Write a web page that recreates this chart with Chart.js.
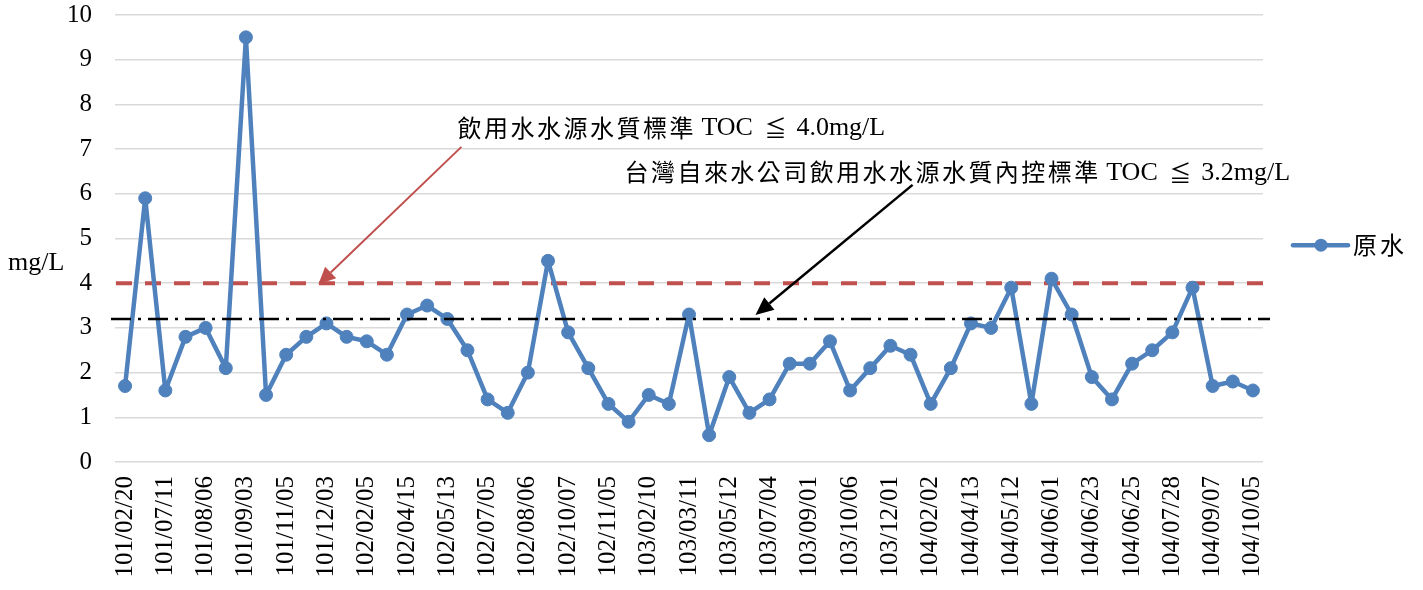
<!DOCTYPE html>
<html>
<head>
<meta charset="utf-8">
<script src="https://cdn.jsdelivr.net/npm/chart.js@4/dist/chart.umd.min.js"></script>
<style>
  html, body { margin: 0; padding: 0; background: #fff; }
</style>
</head>
<body>
<canvas id="toc-chart" width="1423" height="590"></canvas>
<script>
// dates printed on the axis (only every second sample gets a label)
const shownDates = [
    '101/02/20', '101/07/11', '101/08/06', '101/09/03', '101/11/05', '101/12/03',
    '102/02/05', '102/04/15', '102/05/13', '102/07/05', '102/08/06', '102/10/07',
    '102/11/05', '103/02/10', '103/03/11', '103/05/12', '103/07/04', '103/09/01',
    '103/10/06', '103/12/01', '104/02/02', '104/04/13', '104/05/12', '104/06/01',
    '104/06/23', '104/06/25', '104/07/28', '104/09/07', '104/10/05'
];

// raw water TOC (mg/L)
const tocValues = [
    1.7, 5.9, 1.6, 2.8, 3.0, 2.1, 9.5, 1.5, 2.4, 2.8,
    3.1, 2.8, 2.7, 2.4, 3.3, 3.5, 3.2, 2.5, 1.4, 1.1,
    2.0, 4.5, 2.9, 2.1, 1.3, 0.9, 1.5, 1.3, 3.3, 0.6,
    1.9, 1.1, 1.4, 2.2, 2.2, 2.7, 1.6, 2.1, 2.6, 2.4,
    1.3, 2.1, 3.1, 3.0, 3.9, 1.3, 4.1, 3.3, 1.9, 1.4,
    2.2, 2.5, 2.9, 3.9, 1.7, 1.8, 1.6
];

const yMin = 0;
const yMax = 10;
const yStep = 1;

const standardLimit = 4.0;   // 飲用水水源水質標準
const internalLimit = 3.2;   // 台水內控標準

const seriesName = '原水';
const unitLabel = 'mg/L';
const standardNote = ['飲用水水源水質標準', 'TOC', '≦', '4.0mg/L'];
const internalNote = ['台灣自來水公司飲用水水源水質內控標準', 'TOC', '≦', '3.2mg/L'];

const labels = tocValues.map((v, i) => (i % 2 === 0 ? shownDates[i / 2] : ''));

const BLUE = '#4f81bd';
const RED = '#c0504d';
const SERIF = '"Liberation Serif", "Times New Roman", serif';
const CJK = '"Noto Sans CJK TC", "Noto Sans CJK SC", sans-serif';

function drawCjk(ctx, text, x, y, size, advance) {
    ctx.font = size + 'px ' + CJK;
    ctx.textAlign = 'left';
    ctx.textBaseline = 'middle';
    for (let i = 0; i < text.length; i++) {
        ctx.fillText(text[i], x + i * advance, y);
    }
    return x + (text.length - 1) * advance + size;
}

function drawNote(ctx, note, x, y, advance) {
    ctx.fillStyle = '#000';
    const end = drawCjk(ctx, note[0], x, y, 24, advance);
    const tx = end + 8;
    ctx.font = '26px ' + SERIF;
    ctx.textAlign = 'left';
    ctx.textBaseline = 'middle';
    ctx.fillText(note[1], tx, y + 1);
    ctx.font = '22px ' + CJK;
    ctx.textAlign = 'center';
    ctx.fillText(note[2], tx + 74, y);
    ctx.font = '26px ' + SERIF;
    ctx.textAlign = 'left';
    ctx.fillText(note[3], tx + 95, y + 1);
}

function drawArrow(ctx, x1, y1, x2, y2, color, width, headLen, headHalf) {
    const ang = Math.atan2(y2 - y1, x2 - x1);
    const bx = x2 - headLen * Math.cos(ang);
    const by = y2 - headLen * Math.sin(ang);
    ctx.strokeStyle = color;
    ctx.fillStyle = color;
    ctx.lineWidth = width;
    ctx.setLineDash([]);
    ctx.beginPath();
    ctx.moveTo(x1, y1);
    ctx.lineTo(bx, by);
    ctx.stroke();
    ctx.beginPath();
    ctx.moveTo(x2, y2);
    ctx.lineTo(bx + headHalf * Math.sin(ang), by - headHalf * Math.cos(ang));
    ctx.lineTo(bx - headHalf * Math.sin(ang), by + headHalf * Math.cos(ang));
    ctx.closePath();
    ctx.fill();
}

const overlay = {
    id: 'overlay',
    beforeDatasetsDraw(chart) {
        const ctx = chart.ctx;
        const area = chart.chartArea;
        const y = chart.scales.y;
        ctx.save();
        // red dashed standard line
        ctx.strokeStyle = RED;
        ctx.lineWidth = 4;
        ctx.setLineDash([16, 13]);
        ctx.beginPath();
        ctx.moveTo(area.left + 1, y.getPixelForValue(standardLimit));
        ctx.lineTo(area.right + 7, y.getPixelForValue(standardLimit));
        ctx.stroke();
        ctx.restore();
    },
    afterDatasetsDraw(chart) {
        const ctx = chart.ctx;
        const area = chart.chartArea;
        const x = chart.scales.x;
        const y = chart.scales.y;
        ctx.save();

        // black dash-dot internal line
        ctx.strokeStyle = '#000';
        ctx.lineWidth = 2.5;
        ctx.setLineDash([20, 7, 3, 7]);
        ctx.beginPath();
        ctx.moveTo(area.left - 4, y.getPixelForValue(internalLimit));
        ctx.lineTo(area.right + 7, y.getPixelForValue(internalLimit));
        ctx.stroke();

        // arrows pointing to the two limits
        drawArrow(ctx, x.getPixelForValue(16.7), y.getPixelForValue(7.05),
            x.getPixelForValue(9.6), y.getPixelForValue(standardLimit) + 1, RED, 2, 17, 8);
        drawArrow(ctx, x.getPixelForValue(39.1), y.getPixelForValue(6.2),
            x.getPixelForValue(31.3), y.getPixelForValue(internalLimit) - 4, '#000', 2.5, 18, 8);

        // notes
        drawNote(ctx, standardNote, x.getPixelForValue(16.5), y.getPixelForValue(7.48), 26.5);
        drawNote(ctx, internalNote, x.getPixelForValue(24.8), y.getPixelForValue(6.48), 26.45);

        // unit label
        ctx.fillStyle = '#000';
        ctx.font = '26px ' + SERIF;
        ctx.textAlign = 'left';
        ctx.textBaseline = 'middle';
        ctx.fillText(unitLabel, 8, y.getPixelForValue(4.45));

        // legend
        const ly = y.getPixelForValue(4.85);
        const lx = area.right + 30;
        ctx.strokeStyle = BLUE;
        ctx.lineWidth = 4.5;
        ctx.setLineDash([]);
        ctx.lineCap = 'round';
        ctx.beginPath();
        ctx.moveTo(lx, ly);
        ctx.lineTo(lx + 55, ly);
        ctx.stroke();
        ctx.fillStyle = BLUE;
        ctx.beginPath();
        ctx.arc(lx + 28, ly, 6.5, 0, Math.PI * 2);
        ctx.fill();
        ctx.fillStyle = '#000';
        drawCjk(ctx, seriesName, lx + 60, ly, 24, 27);

        ctx.restore();
    }
};

const ctx = document.getElementById('toc-chart').getContext('2d');
new Chart(ctx, {
    type: 'line',
    data: {
        labels: labels,
        datasets: [{
            label: seriesName,
            data: tocValues,
            borderColor: BLUE,
            backgroundColor: BLUE,
            borderWidth: 4.5,
            borderJoinStyle: 'round',
            borderCapStyle: 'round',
            pointRadius: 6.5,
            pointBackgroundColor: BLUE,
            pointBorderColor: BLUE,
            pointBorderWidth: 1,
            tension: 0,
            fill: false
        }]
    },
    options: {
        responsive: false,
        animation: false,
        layout: {
            autoPadding: false,
            padding: { left: 0, right: 160, top: 15, bottom: 0 }
        },
        plugins: {
            legend: { display: false },
            tooltip: { enabled: false }
        },
        scales: {
            x: {
                type: 'category',
                offset: true,
                grid: { display: false, drawTicks: false },
                border: { display: false },
                ticks: {
                    autoSkip: false,
                    minRotation: 90,
                    maxRotation: 90,
                    padding: 14,
                    color: '#000',
                    font: { family: SERIF, size: 25 }
                },
                afterFit: function (scale) {
                    scale.height = 128;
                }
            },
            y: {
                min: yMin,
                max: yMax,
                grid: {
                    color: '#d9d9d9',
                    lineWidth: 1.5,
                    drawTicks: true,
                    tickLength: 23,
                    tickColor: 'rgba(0,0,0,0)'
                },
                border: { display: false },
                ticks: {
                    stepSize: yStep,
                    padding: 0,
                    color: '#000',
                    font: { family: SERIF, size: 25 }
                },
                afterFit: function (scale) {
                    scale.width = 115;
                }
            }
        }
    },
    plugins: [overlay]
});
</script>
</body>
</html>
